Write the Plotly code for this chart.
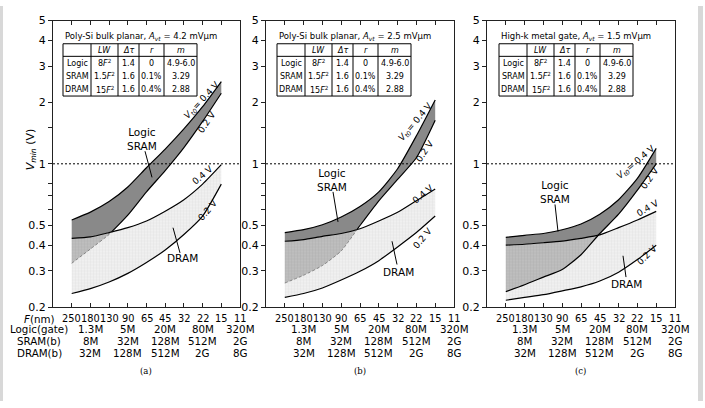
import numpy as np
import plotly.graph_objects as go

W, H = 705, 408

# ---------------- data ----------------
F_nm = ["250", "180", "130", "90", "65", "45", "32", "22", "15", "11"]
logic_gate = ["1.3M", "5M", "20M", "80M", "320M"]
sram_bits = ["8M", "32M", "128M", "512M", "2G"]
dram_bits = ["32M", "128M", "512M", "2G", "8G"]
row_names = ["<i>F</i>(nm)", "Logic(gate)", "SRAM(b)", "DRAM(b)"]

y_tickvals = [0.2, 0.3, 0.4, 0.5, 0.6, 0.7, 0.8, 1, 1.5, 2, 3, 4, 5]
y_ticktext = ["0.2", "0.3", "0.4", "0.5", " ", " ", " ", "1", " ", "2", "3", "4", "5"]

# Vmin curves at F = 250 ... 15 nm (index 0..8)
a_logic_04 = [0.532, 0.581, 0.654, 0.771, 0.957, 1.18, 1.48, 1.90, 2.52]
a_logic_02 = [0.327, 0.384, 0.452, 0.562, 0.730, 0.927, 1.20, 1.61, 2.21]
a_dram_04 = [0.433, 0.440, 0.462, 0.488, 0.526, 0.587, 0.668, 0.796, 0.99]
a_dram_02 = [0.233, 0.246, 0.265, 0.292, 0.330, 0.380, 0.452, 0.556, 0.796]

b_logic_04 = [0.462, 0.477, 0.504, 0.550, 0.619, 0.730, 0.946, 1.37, 2.05]
b_logic_02 = [0.262, 0.286, 0.319, 0.376, 0.500, 0.660, 0.840, 1.07, 1.63]
b_dram_04 = [0.419, 0.427, 0.443, 0.457, 0.482, 0.526, 0.580, 0.661, 0.753]
b_dram_02 = [0.223, 0.233, 0.248, 0.271, 0.299, 0.337, 0.393, 0.462, 0.556]

c_logic_04 = [0.438, 0.448, 0.457, 0.477, 0.509, 0.568, 0.668, 0.849, 1.19]
c_logic_02 = [0.238, 0.257, 0.280, 0.305, 0.360, 0.457, 0.568, 0.744, 1.00]
c_dram_04 = [0.401, 0.405, 0.412, 0.420, 0.433, 0.450, 0.488, 0.532, 0.586]
c_dram_02 = [0.216, 0.223, 0.230, 0.240, 0.251, 0.268, 0.296, 0.341, 0.401]

titles = ["Poly-Si bulk planar, <i>A</i><sub><i>vt</i></sub> = 4.2 mV\u03bcm",
          "Poly-Si bulk planar, <i>A</i><sub><i>vt</i></sub> = 2.5 mV\u03bcm",
          "High-k metal gate, <i>A</i><sub><i>vt</i></sub> = 1.5 mV\u03bcm"]
captions = ["(a)", "(b)", "(c)"]

tbl_header = ["", "<i>LW</i>", "<i>\u0394\u03c4</i>", "<i>r</i>", "<i>m</i>"]
tbl_rows = [["Logic", "8<i>F</i><sup>2</sup>", "1.4", "0", "4.9-6.0"],
            ["SRAM", "1.5<i>F</i><sup>2</sup>", "1.6", "0.1%", "3.29"],
            ["DRAM", "15<i>F</i><sup>2</sup>", "1.6", "0.4%", "2.88"]]

panels_data = [
    (a_logic_04, a_logic_02, a_dram_04, a_dram_02),
    (b_logic_04, b_logic_02, b_dram_04, b_dram_02),
    (c_logic_04, c_logic_02, c_dram_04, c_dram_02),
]

# ---------------- layout geometry (pixels) ----------------
def px(x):
    return x / W


def py(y):
    return 1 - y / H


panel_px = [(53, 240), (266, 454), (487, 675)]
ytop, ybot = 15, 311
FONT = "DejaVu Sans"

SHAPE = "spline"
SMOOTH = 0.6

fig = go.Figure()

light = dict(shape="+", size=3, solidity=0.2, fgcolor="#cdcdcd", bgcolor="#f0f0f0")
mid = dict(shape="+", size=3, solidity=0.2, fgcolor="#9a9a9a", bgcolor="#bebebe")
dark = "#898989"

idx = list(range(9))

for p, (l04, l02, d04, d02) in enumerate(panels_data):
    xa = "x" if p == 0 else f"x{p+1}"
    ya = "y" if p == 0 else f"y{p+1}"
    ll = np.log10(l02)
    ld = np.log10(d04)
    dd = ll - ld
    ci = None
    for i in range(len(dd) - 1):
        if dd[i] <= 0 < dd[i + 1]:
            t = -dd[i] / (dd[i + 1] - dd[i])
            ci = i
            xc = i + t
            yc = 10 ** (ld[i] + t * (ld[i + 1] - ld[i]))
            break
    common = dict(xaxis=xa, yaxis=ya, showlegend=False, hoverinfo="skip")
    # DRAM band
    fig.add_trace(go.Scatter(x=idx, y=d02, mode="lines",
                             line=dict(width=0, shape=SHAPE, smoothing=SMOOTH), **common))
    fig.add_trace(go.Scatter(x=idx, y=d04, mode="lines", fill="tonexty",
                             fillcolor="#f0f0f0", fillpattern=light,
                             line=dict(width=0, shape=SHAPE, smoothing=SMOOTH), **common))
    # Logic/SRAM band (outside DRAM band)
    low_x = idx[:ci + 1] + [xc] + idx[ci + 1:]
    low_y = list(d04[:ci + 1]) + [yc] + list(l02[ci + 1:])
    fig.add_trace(go.Scatter(x=low_x, y=low_y, mode="lines",
                             line=dict(width=0, shape=SHAPE, smoothing=SMOOTH), **common))
    fig.add_trace(go.Scatter(x=idx, y=l04, mode="lines", fill="tonexty",
                             fillcolor=dark,
                             line=dict(width=0, shape=SHAPE, smoothing=SMOOTH), **common))
    # overlap region
    ov_x = idx[:ci + 1] + [xc]
    fig.add_trace(go.Scatter(x=ov_x, y=list(l02[:ci + 1]) + [yc], mode="lines",
                             line=dict(width=0, shape=SHAPE, smoothing=SMOOTH), **common))
    fig.add_trace(go.Scatter(x=ov_x, y=list(d04[:ci + 1]) + [yc], mode="lines",
                             fill="tonexty", fillcolor="#bebebe", fillpattern=mid,
                             line=dict(width=0, shape=SHAPE, smoothing=SMOOTH), **common))
    # boundary lines
    for arr in (d02, d04, l04):
        fig.add_trace(go.Scatter(x=idx, y=arr, mode="lines",
                                 line=dict(color="black", width=1.2, shape=SHAPE, smoothing=SMOOTH),
                                 **common))
    if p < 2:
        fig.add_trace(go.Scatter(x=ov_x, y=list(l02[:ci + 1]) + [yc], mode="lines",
                                 line=dict(color="#707070", width=0.8, dash="3px,2px",
                                           shape=SHAPE, smoothing=SMOOTH), **common))
        fig.add_trace(go.Scatter(x=[xc] + idx[ci + 1:], y=[yc] + list(l02[ci + 1:]), mode="lines",
                                 line=dict(color="black", width=1.2, shape=SHAPE, smoothing=SMOOTH),
                                 **common))
    else:
        fig.add_trace(go.Scatter(x=idx, y=l02, mode="lines",
                                 line=dict(color="black", width=1.2, shape=SHAPE, smoothing=SMOOTH),
                                 **common))
    # Vmin = 1 V dotted reference
    fig.add_trace(go.Scatter(x=[-1, 9], y=[1, 1], mode="lines",
                             line=dict(color="black", width=1, dash="2px,2px"), **common))

layout = dict(
    width=W, height=H, margin=dict(l=0, r=0, t=0, b=0),
    paper_bgcolor="white", plot_bgcolor="rgba(0,0,0,0)",
    font=dict(family=FONT, color="black", size=11),
    showlegend=False,
)

annotations = []
shapes = []

for p, (l, r) in enumerate(panel_px):
    sfx = "" if p == 0 else str(p + 1)
    layout[f"xaxis{sfx}"] = dict(
        domain=[px(l), px(r)], range=[-1, 9], tickvals=list(range(10)),
        ticks="inside", ticklen=4, tickcolor="#222", showticklabels=False,
        showline=True, linecolor="#222", linewidth=1, mirror="ticks",
        showgrid=False, zeroline=False, anchor=f"y{sfx}", fixedrange=True)
    layout[f"yaxis{sfx}"] = dict(
        domain=[py(ybot), py(ytop)], type="log", range=[np.log10(0.2), np.log10(5)],
        tickvals=y_tickvals, ticktext=y_ticktext, ticks="outside", ticklen=4,
        tickcolor="#222", showline=True, linecolor="#222", linewidth=1, mirror=True,
        showgrid=False, zeroline=False, anchor=f"x{sfx}", tickfont=dict(size=11),
        fixedrange=True)
    layout[f"yaxis{p+4}"] = dict(
        overlaying=f"y{sfx}", anchor=f"x{sfx}", side="right", type="log",
        range=[np.log10(0.2), np.log10(5)], tickvals=y_tickvals, ticks="inside",
        ticklen=4, tickcolor="#222", showticklabels=False, showline=False,
        showgrid=False, zeroline=False, fixedrange=True)

    xref = f"x{sfx}"
    # bottom tick label rows
    for i, lab in enumerate(F_nm):
        annotations.append(dict(x=i, y=py(322.5), xref=xref, yref="paper", text=lab,
                                showarrow=False, font=dict(size=9.8), xanchor="center",
                                yanchor="middle"))
    for row, (vals, yy) in enumerate(zip([logic_gate, sram_bits, dram_bits], [334, 346, 358])):
        for k, lab in enumerate(vals):
            annotations.append(dict(x=2 * k + 1, y=py(yy), xref=xref, yref="paper", text=lab,
                                    showarrow=False, font=dict(size=10.3), xanchor="center",
                                    yanchor="middle"))
    # caption
    annotations.append(dict(x=px((l + r) / 2 - 0.5), y=py(377), xref="paper", yref="paper",
                            text=captions[p], showarrow=False,
                            font=dict(size=8.5, family="DejaVu Serif"),
                            xanchor="center", yanchor="middle"))
    # table
    t0 = [63, 277, 499][p]
    cw = [28, 27, 21, 25, 33]
    cx = [t0]
    for w in cw:
        cx.append(cx[-1] + w)
    ry = [39, 52, 65.5, 79, 93]
    annotations.append(dict(x=px(t0), y=py(31), xref="paper", yref="paper", text=titles[p],
                            showarrow=False, font=dict(size=8.5), xanchor="left",
                            yanchor="middle"))
    shapes.append(dict(type="rect", xref="paper", yref="paper", x0=px(cx[0]), x1=px(cx[-1]),
                       y0=py(ry[0]), y1=py(ry[-1]), line=dict(color="black", width=1),
                       fillcolor="white", layer="above"))
    for xv in cx[1:-1]:
        shapes.append(dict(type="line", xref="paper", yref="paper", x0=px(xv), x1=px(xv),
                           y0=py(ry[0]), y1=py(ry[-1]), line=dict(color="black", width=1)))
    shapes.append(dict(type="line", xref="paper", yref="paper", x0=px(cx[0]), x1=px(cx[-1]),
                       y0=py(ry[1]), y1=py(ry[1]), line=dict(color="black", width=1)))
    rows = [tbl_header] + tbl_rows
    for rr, rowvals in enumerate(rows):
        yc_ = (ry[rr] + ry[rr + 1]) / 2
        for cc, txt in enumerate(rowvals):
            if not txt:
                continue
            annotations.append(dict(x=px((cx[cc] + cx[cc + 1]) / 2), y=py(yc_ + 0.5),
                                    xref="paper", yref="paper", text=txt, showarrow=False,
                                    font=dict(size=8), xanchor="center", yanchor="middle"))

# row names (left of panel a)
for name, yy in zip(row_names, [323, 334, 346, 358]):
    annotations.append(dict(x=px(39), y=py(yy), xref="paper", yref="paper", text=name,
                            showarrow=False, font=dict(size=10.3), xanchor="center",
                            yanchor="middle"))

# y axis title
annotations.append(dict(x=px(31), y=py(148), xref="paper", yref="paper",
                        text="<i>V</i><sub><i>min</i></sub> (V)", showarrow=False,
                        textangle=-90, font=dict(size=11), xanchor="center", yanchor="middle"))

# in-plot labels: (text, x, y, angle, size)
labels = [
    ("Logic<br>SRAM", 142, 137, 0, 10.5), ("DRAM", 182, 260, 0, 10.5),
    ("<i>V</i><sub><i>t0</i></sub>= 0.4 V", 202, 98, -47, 9), ("0.2 V", 207, 120, -55, 9),
    ("0.4 V", 203, 175, -40, 9), ("0.2 V", 208, 211, -50, 9),
    ("Logic<br>SRAM", 332, 180, 0, 10.5), ("DRAM", 398, 275, 0, 10.5),
    ("<i>V</i><sub><i>t0</i></sub>= 0.4 V", 415, 120, -50, 9), ("0.2 V", 425, 150, -55, 9),
    ("0.4 V", 423, 194, -40, 9), ("0.2 V", 423, 240, -50, 9),
    ("Logic<br>SRAM", 555, 192, 0, 10.5), ("DRAM", 626, 287, 0, 10.5),
    ("<i>V</i><sub><i>t0</i></sub>= 0.4 V", 636, 162, -40, 9), ("0.2 V", 650, 178, -55, 9),
    ("0.4 V", 648, 209, -30, 9), ("0.2 V", 647, 257, -45, 9),
]
for txt, x, y, ang, sz in labels:
    annotations.append(dict(x=px(x), y=py(y), xref="paper", yref="paper", text=txt,
                            showarrow=False, textangle=ang, font=dict(size=sz, color="black"),
                            xanchor="center", yanchor="middle"))

# leader lines
leaders = [(145, 150, 152, 177), (173, 229, 180, 255),
           (333, 192, 338, 223), (392, 243, 397, 267),
           (555, 205, 558, 233), (623, 258, 626, 280)]
for x0, y0, x1, y1 in leaders:
    shapes.append(dict(type="line", xref="paper", yref="paper", x0=px(x0), y0=py(y0),
                       x1=px(x1), y1=py(y1), line=dict(color="black", width=1)))

# page border strips
shapes.append(dict(type="rect", xref="paper", yref="paper", x0=0, x1=px(3), y0=0, y1=1,
                   fillcolor="#d8d8d8", line=dict(width=0), layer="below"))
shapes.append(dict(type="rect", xref="paper", yref="paper", x0=px(698), x1=px(703), y0=0, y1=1,
                   fillcolor="#d8d8d8", line=dict(width=0), layer="below"))

layout["annotations"] = annotations
layout["shapes"] = shapes
fig.update_layout(**layout)

fig.write_html("out.html")
